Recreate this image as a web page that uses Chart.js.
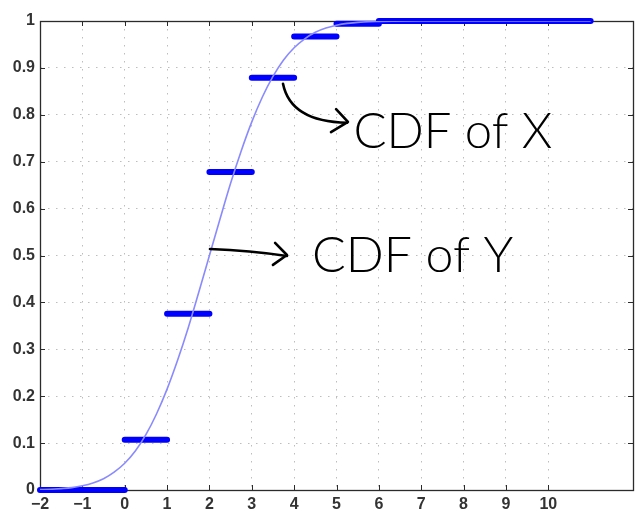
<!DOCTYPE html>
<html>
<head>
<meta charset="utf-8">
<script src="https://cdn.jsdelivr.net/npm/chart.js@4"></script>
<style>
html,body{margin:0;padding:0;background:#fff;}
#wrap{width:635px;height:510px;}
</style>
</head>
<body>
<div id="wrap"><canvas id="c" width="635" height="510"></canvas></div>
<script>
// ---- data ----
const xTickValues = [-2,-1,0,1,2,3,4,5,6,7,8,9,10];
const xTickLabels = ['\u22122','\u22121','0','1','2','3','4','5','6','7','8','9','10'];
const yTickValues = [0,0.1,0.2,0.3,0.4,0.5,0.6,0.7,0.8,0.9,1];
const yTickLabels = ['0','0.1','0.2','0.3','0.4','0.5','0.6','0.7','0.8','0.9','1'];

// CDF of X (step function): each bar from stepStart to stepEnd at stepValue
const stepStart = [-2, 0, 1, 2, 3, 4, 5, 6];
const stepEnd   = [ 0, 1, 2, 3, 4, 5, 6, 11];
const stepValue = [0, 0.107, 0.376, 0.678, 0.879, 0.967, 0.994, 1.0];

// CDF of Y (smooth curve)
const curveX = [-2,-1.75,-1.5,-1.25,-1,-0.75,-0.5,-0.25,0,0.25,0.5,0.75,1,1.25,1.5,1.75,2,
                2.25,2.5,2.75,3,3.25,3.5,3.75,4,4.25,4.5,4.75,5,5.25,5.5,5.75,6,7,11];
const curveY = [0.001,0.0015,0.003,0.005,0.009,0.015,0.024,0.038,0.057,0.083,0.118,0.162,0.215,0.277,0.346,0.422,0.5,
                0.578,0.654,0.723,0.785,0.838,0.882,0.917,0.943,0.962,0.976,0.985,0.991,0.995,0.997,0.9985,0.999,1,1];

// annotation labels
const noteTexts = ['CDF of X', 'CDF of Y'];

// ---- build datasets ----
const stepData = [];
stepStart.forEach((s, i) => {
  stepData.push({x: s, y: stepValue[i]});
  stepData.push({x: stepEnd[i], y: stepValue[i]});
  stepData.push({x: stepEnd[i], y: null});
});
const curveData = curveX.map((x, i) => ({x: x, y: curveY[i]}));

// annotation geometry in data units
const notes = [
  {text: noteTexts[0], tx: 5.40, ty: 0.729, size: 49,
   path: [[3.737,0.866],[3.92,0.785],[5.25,0.783]],
   head: [[4.99,0.812],[5.27,0.785],[4.87,0.763]]},
  {text: noteTexts[1], tx: 4.42, ty: 0.465, size: 50,
   path: [[2.013,0.514],[2.96,0.511],[3.83,0.499]],
   head: [[3.55,0.527],[3.83,0.501],[3.50,0.480]]}
];

const framePlugin = {
  id: 'frame',
  beforeDatasetsDraw(chart) {
    const {ctx, chartArea: a, scales} = chart;
    ctx.save();
    ctx.strokeStyle = '#2b2b2b';
    ctx.lineWidth = 1;
    ctx.beginPath();
    xTickValues.forEach(v => {
      const px = Math.round(scales.x.getPixelForValue(v)) + 0.5;
      ctx.moveTo(px, a.bottom); ctx.lineTo(px, a.bottom - 5);
      ctx.moveTo(px, a.top); ctx.lineTo(px, a.top + 5);
    });
    yTickValues.forEach(v => {
      const py = Math.round(scales.y.getPixelForValue(v)) + 0.5;
      ctx.moveTo(a.left, py); ctx.lineTo(a.left + 5, py);
      ctx.moveTo(a.right, py); ctx.lineTo(a.right - 5, py);
    });
    ctx.stroke();
    ctx.lineWidth = 1.3;
    ctx.strokeRect(Math.round(a.left)+0.5, Math.round(a.top)+0.5, Math.round(a.right-a.left), Math.round(a.bottom-a.top));
    ctx.restore();
  }
};

const notePlugin = {
  id: 'notes',
  afterDraw(chart) {
    const {ctx, scales} = chart;
    const P = p => [scales.x.getPixelForValue(p[0]), scales.y.getPixelForValue(p[1])];
    ctx.save();
    ctx.strokeStyle = '#000';
    ctx.fillStyle = '#000';
    ctx.lineWidth = 2.6;
    ctx.lineCap = 'round';
    ctx.lineJoin = 'round';
    notes.forEach(n => {
      const [s, c, e] = n.path.map(P);
      ctx.beginPath();
      ctx.moveTo(s[0], s[1]);
      ctx.quadraticCurveTo(c[0], c[1], e[0], e[1]);
      ctx.stroke();
      const [h1, h2, h3] = n.head.map(P);
      ctx.beginPath();
      ctx.moveTo(h1[0], h1[1]); ctx.lineTo(h2[0], h2[1]); ctx.lineTo(h3[0], h3[1]);
      ctx.stroke();
      const t = P([n.tx, n.ty]);
      ctx.font = '300 ' + n.size + 'px Lato, "Liberation Sans", sans-serif';
      ctx.textBaseline = 'alphabetic';
      ctx.textAlign = 'left';
      ctx.fillText(n.text, t[0], t[1]);
    });
    ctx.restore();
  }
};

new Chart(document.getElementById('c'), {
  type: 'line',
  data: {
    datasets: [
      {
        label: 'CDF of Y',
        data: curveData,
        borderColor: '#8a8aff',
        borderWidth: 1.6,
        pointRadius: 0,
        cubicInterpolationMode: 'monotone',
        fill: false,
        order: 0
      },
      {
        label: 'CDF of X',
        data: stepData,
        borderColor: '#0000ff',
        borderWidth: 6,
        borderCapStyle: 'round',
        pointRadius: 0,
        spanGaps: false,
        fill: false,
        clip: 8,
        order: 1
      }
    ]
  },
  options: {
    responsive: false,
    animation: false,
    parsing: true,
    layout: {padding: {top: 21, right: 2, left: 0, bottom: 0}},
    plugins: {legend: {display: false}, tooltip: {enabled: false}},
    scales: {
      x: {
        type: 'linear',
        min: -2, max: 12,
        afterBuildTicks: s => { s.ticks = xTickValues.map(v => ({value: v})); },
        afterFit: s => { s.height = 20; },
        grid: {color: '#bdbdbd', lineWidth: 1, drawTicks: false},
        border: {display: false, dash: [1.5, 6.5]},
        ticks: {
          padding: 5,
          color: '#333',
          font: {family: '"Liberation Sans", Arial, sans-serif', size: 16, weight: 'bold'},
          callback: v => xTickLabels[xTickValues.indexOf(v)],
          maxRotation: 0, autoSkip: false
        }
      },
      y: {
        type: 'linear',
        min: 0, max: 1,
        afterBuildTicks: s => { s.ticks = yTickValues.map(v => ({value: v})); },
        afterFit: s => { s.width = 40; },
        grid: {color: '#bdbdbd', lineWidth: 1, drawTicks: false},
        border: {display: false, dash: [1.5, 6.5]},
        ticks: {
          padding: 5,
          color: '#333',
          font: {family: '"Liberation Sans", Arial, sans-serif', size: 16, weight: 'bold'},
          callback: (v, i) => yTickLabels[i],
          autoSkip: false
        }
      }
    }
  },
  plugins: [framePlugin, notePlugin]
});
</script>
</body>
</html>
